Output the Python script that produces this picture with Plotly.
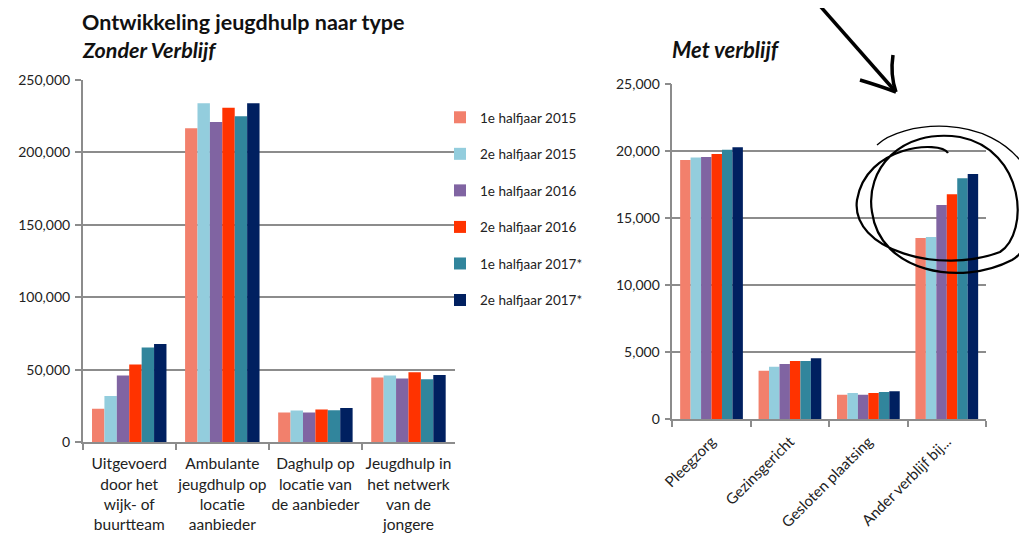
import plotly.graph_objects as go

# page has an 8px body margin; figure is sized so that it fits the 1027x533 window
OFF = 8
W, H = 1027 - OFF, 533 - OFF

series_names = ["1e halfjaar 2015", "2e halfjaar 2015", "1e halfjaar 2016",
                "2e halfjaar 2016", "1e halfjaar 2017*", "2e halfjaar 2017*"]
colors = ["#F2806C", "#93CDDD", "#8064A2", "#FF3300", "#31859C", "#002060"]

cats_zonder = ["Uitgevoerd<br>door het<br>wijk- of<br>buurtteam",
               "Ambulante<br>jeugdhulp op<br>locatie<br>aanbieder",
               "Daghulp op<br>locatie van<br>de aanbieder<br> ",
               "Jeugdhulp in<br>het netwerk<br>van de<br>jongere"]
zonder_2015_1 = [23000, 216600, 20300, 44500]
zonder_2015_2 = [31800, 233900, 21700, 45900]
zonder_2016_1 = [45900, 221000, 20300, 43800]
zonder_2016_2 = [53500, 230900, 22400, 48200]
zonder_2017_1 = [65200, 224900, 21900, 43300]
zonder_2017_2 = [67700, 233900, 23500, 46300]

cats_met = ["Pleegzorg", "Gezinsgericht", "Gesloten plaatsing", "Ander verblijf bij..."]
met_2015_1 = [19350, 3630, 1840, 13530]
met_2015_2 = [19530, 3930, 1970, 13600]
met_2016_1 = [19580, 4130, 1840, 16000]
met_2016_2 = [19800, 4350, 1970, 16800]
met_2017_1 = [20120, 4350, 2040, 17990]
met_2017_2 = [20300, 4550, 2090, 18300]

zonder = [zonder_2015_1, zonder_2015_2, zonder_2016_1, zonder_2016_2, zonder_2017_1, zonder_2017_2]
met = [met_2015_1, met_2015_2, met_2016_1, met_2016_2, met_2017_1, met_2017_2]

FONT = "Lato"
GRID = "#8C8C8C"

fig = go.Figure()
for i, name in enumerate(series_names):
    fig.add_trace(go.Bar(x=cats_zonder, y=zonder[i], name=name, marker_color=colors[i],
                         marker_line_width=0, xaxis="x", yaxis="y",
                         legendgroup=f"g{i}", showlegend=True))
for i, name in enumerate(series_names):
    fig.add_trace(go.Bar(x=cats_met, y=met[i], name=name, marker_color=colors[i],
                         marker_line_width=0, xaxis="x2", yaxis="y2",
                         legendgroup=f"g{i}", showlegend=False))

def px_x(p):
    return (p - OFF) / W

def px_y(p):
    return (H - (p - OFF)) / H

line_common = dict(showline=True, linecolor=GRID, linewidth=1.5,
                   ticks="outside", ticklen=6, tickcolor=GRID, tickwidth=1.5)
ytickfont = dict(family=FONT, size=14, color="#222222")

fig.update_layout(
    width=W, height=H,
    margin=dict(l=0, r=0, t=0, b=0, autoexpand=False),
    paper_bgcolor="white", plot_bgcolor="white",
    barmode="group", bargap=0.2, bargroupgap=0,
    font=dict(family=FONT, color="#111111"),
    xaxis=dict(domain=[px_x(82.7), px_x(455)], anchor="y", tickson="boundaries",
               tickangle=0, showgrid=False, ticklabelstandoff=7, **line_common,
               tickfont=dict(family=FONT, size=15.5, color="#222222")),
    yaxis=dict(domain=[px_y(442), px_y(80)], anchor="x", range=[0, 250000],
               dtick=50000, tickformat=",d", showgrid=True, gridcolor=GRID, gridwidth=1.5,
               zeroline=False, tickfont=ytickfont, ticklabelstandoff=2, **line_common),
    xaxis2=dict(domain=[px_x(672.3), px_x(986)], anchor="y2", tickson="boundaries",
                tickangle=-45, showgrid=False, ticklabelstandoff=6, **line_common,
                tickfont=dict(family=FONT, size=15, color="#222222")),
    yaxis2=dict(domain=[px_y(419.3), px_y(84.3)], anchor="x2", range=[0, 25000],
                dtick=5000, tickformat=",d", showgrid=True, gridcolor=GRID, gridwidth=1.5,
                zeroline=False, tickfont=ytickfont, ticklabelstandoff=2, **line_common),
    legend=dict(x=px_x(440), y=px_y(102), xanchor="left", yanchor="top",
                font=dict(family=FONT, size=13.5, color="#222222"),
                tracegroupgap=16, itemwidth=30, bgcolor="rgba(0,0,0,0)"),
)

fig.add_annotation(text="<b>Ontwikkeling jeugdhulp naar type</b>", x=px_x(80), y=px_y(22),
                   xref="paper", yref="paper", xanchor="left", yanchor="middle",
                   showarrow=False, font=dict(family=FONT, size=21.5, color="#111111"))
fig.add_annotation(text="<b><i>Zonder Verblijf</i></b>", x=px_x(80), y=px_y(50),
                   xref="paper", yref="paper", xanchor="left", yanchor="middle",
                   showarrow=False, font=dict(family=FONT, size=21.5, color="#111111"))
fig.add_annotation(text="<b><i>Met verblijf</i></b>", x=px_x(670), y=px_y(50),
                   xref="paper", yref="paper", xanchor="left", yanchor="middle",
                   showarrow=False, font=dict(family=FONT, size=22, color="#111111"))

# Hand-drawn decorations (arrow and circles)
def path(points):
    s = ""
    for cmd, pts in points:
        coords = " ".join(f"{px_x(x):.5f},{px_y(y):.5f}" for x, y in pts)
        s += f"{cmd} {coords} "
    return s

deco = dict(type="path", xref="paper", yref="paper")
fig.add_shape(path=path([("M", [(813, -2)]), ("Q", [(850, 40), (895, 91)])]),
              line=dict(color="black", width=3.5), **deco)
fig.add_shape(path=path([("M", [(860, 80)]), ("Q", [(880, 86), (896, 92)])]),
              line=dict(color="black", width=3.5), **deco)
fig.add_shape(path=path([("M", [(893, 55)]), ("Q", [(890, 75), (896, 92)])]),
              line=dict(color="black", width=3.5), **deco)
fig.add_shape(path=path([("M", [(948, 153)]),
                          ("C", [(940, 140), (866, 145), (857, 200)]),
                          ("C", [(850, 250), (940, 275), (1000, 252)]),
                          ("C", [(1030, 232), (1025, 150), (960, 137)]),
                          ("C", [(900, 128), (865, 170), (872, 212)]),
                          ("C", [(880, 272), (960, 287), (1012, 260)]),
                          ("C", [(1035, 247), (1030, 205), (1028, 195)])]),
              line=dict(color="black", width=2.2), **deco)
fig.add_shape(path=path([("M", [(877, 145)]),
                          ("C", [(900, 122), (990, 110), (1027, 170)])]),
              line=dict(color="black", width=1.3), **deco)

fig.write_html("out.html")
